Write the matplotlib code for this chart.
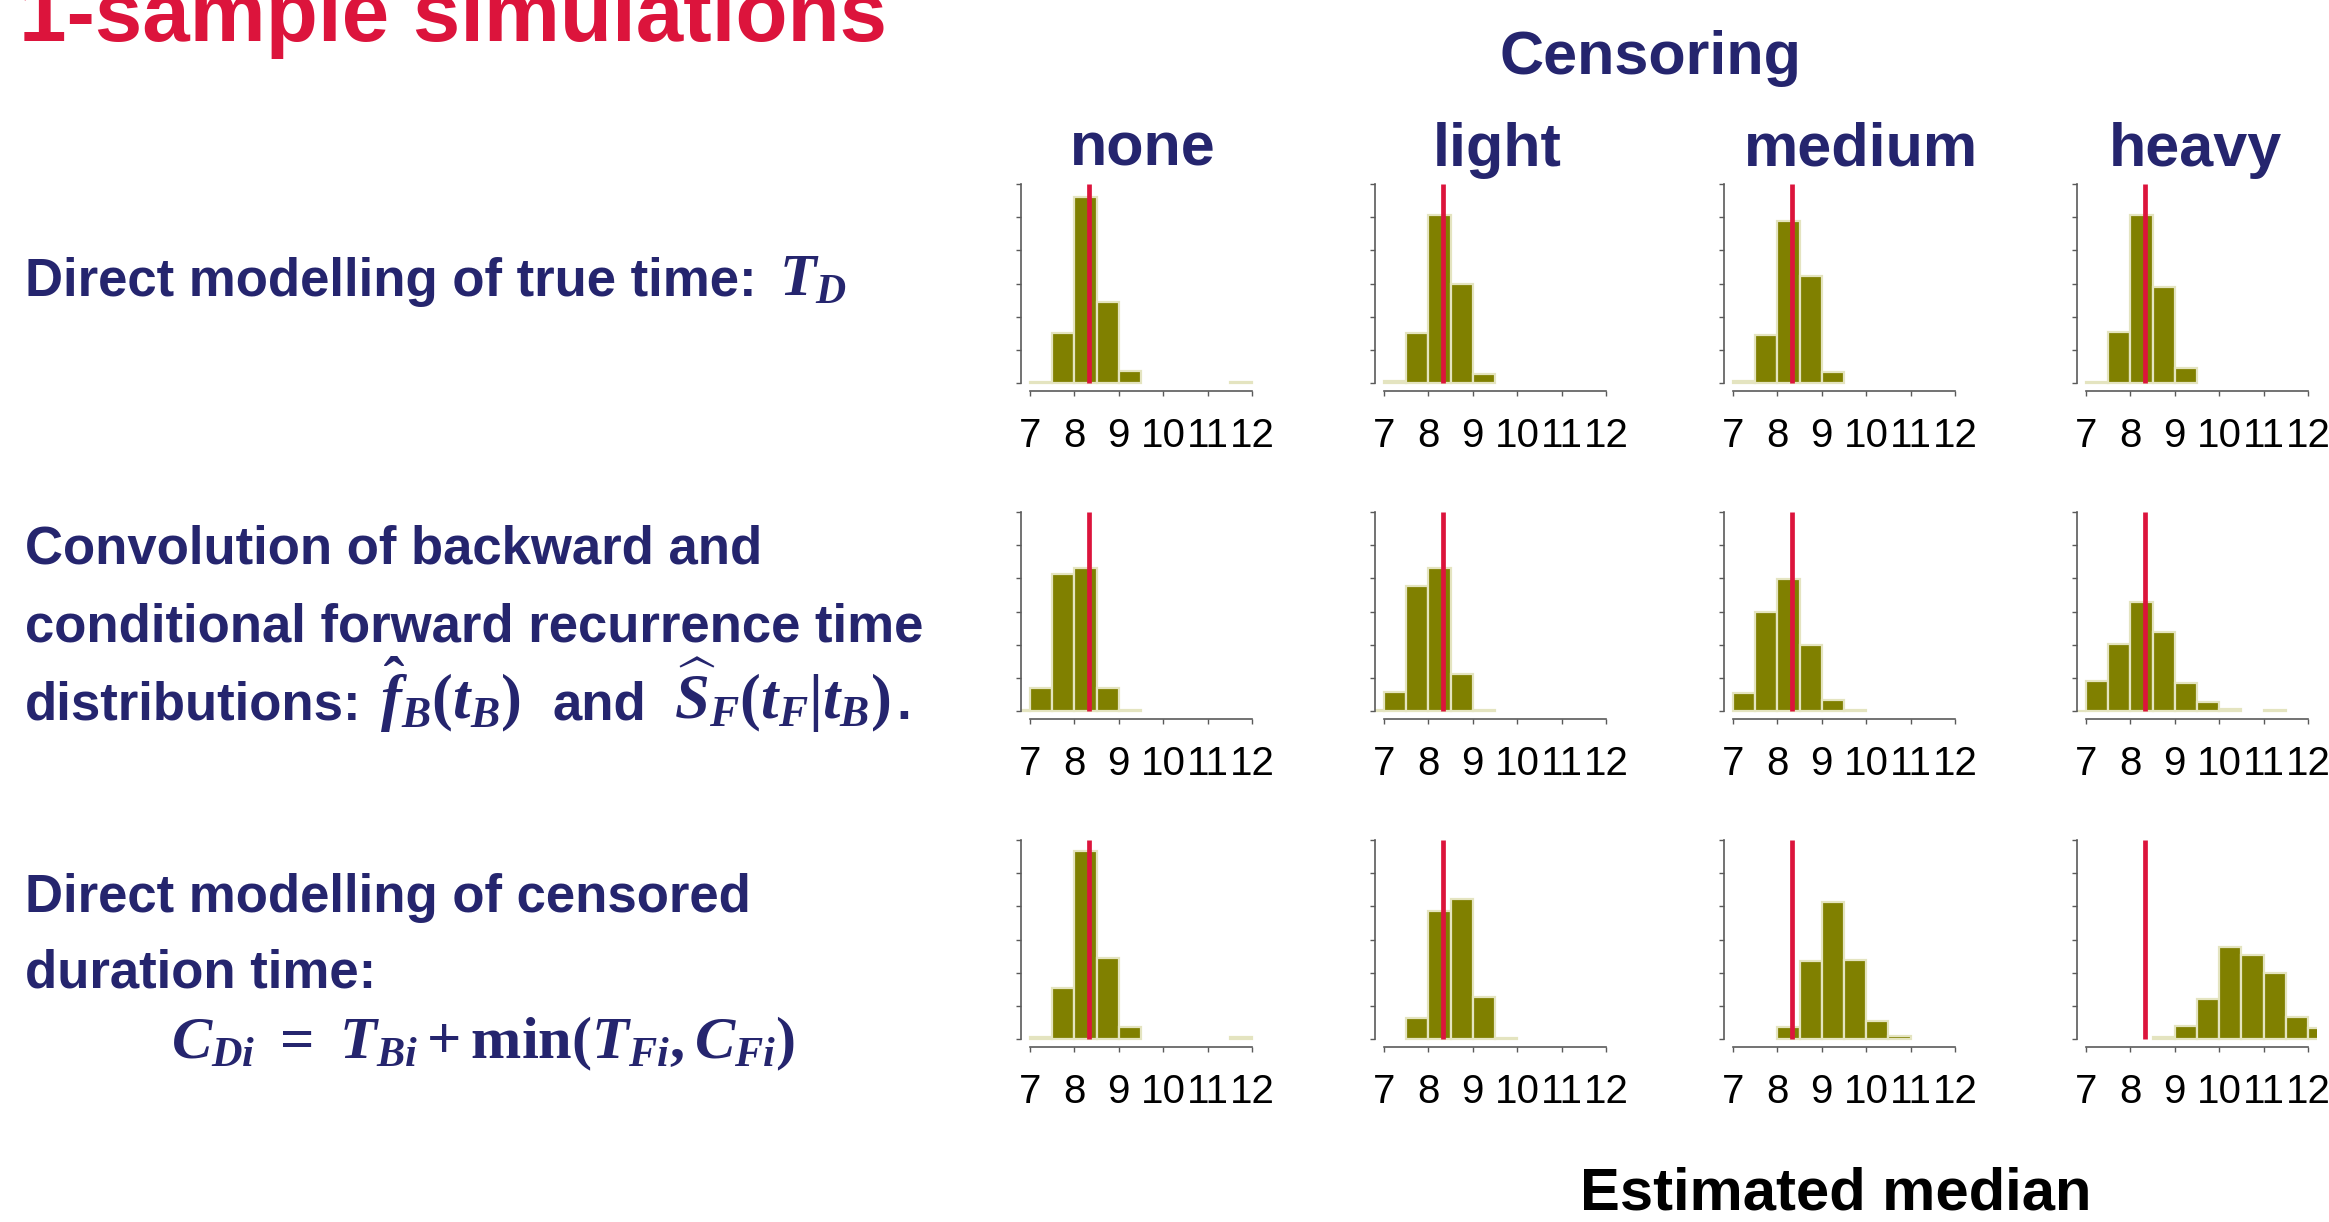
import numpy as np
import matplotlib
matplotlib.use("Agg")
from matplotlib import pyplot as plt

plt.rcParams['font.family'] = ['Liberation Sans', 'DejaVu Sans']
plt.rcParams['mathtext.fontset'] = 'custom'
plt.rcParams['mathtext.rm'] = 'Liberation Serif:bold'
plt.rcParams['mathtext.it'] = 'Liberation Serif:italic:bold'
plt.rcParams['mathtext.bf'] = 'Liberation Serif:bold'

W, H = 2329, 1222
NAVY = '#25256e'
RED = '#dc143c'

censoring = ['none', 'light', 'medium', 'heavy']
methods = ['direct', 'convolution', 'censored']

# histogram bins of the estimated median (width 0.5)
bin_edges = [6.5, 7.0, 7.5, 8.0, 8.5, 9.0, 9.5, 10.0, 10.5, 11.0, 11.5, 12.0, 12.5]
true_median = 8.34

# bar heights, one list per censoring level
direct_none   = [0, 0.02, 1.52, 5.62, 2.43, 0.35, 0, 0, 0, 0, 0.02, 0]
direct_light  = [0, 0.07, 1.52, 5.05, 2.98, 0.27, 0, 0, 0, 0, 0, 0]
direct_medium = [0, 0.05, 1.45, 4.87, 3.22, 0.32, 0, 0, 0, 0, 0, 0]
direct_heavy  = [0, 0.04, 1.53, 5.05, 2.89, 0.45, 0, 0, 0, 0, 0, 0]

conv_none   = [0.02, 0.69, 4.14, 4.31, 0.69, 0.02, 0, 0, 0, 0, 0, 0]
conv_light  = [0.02, 0.57, 3.78, 4.32, 1.12, 0.03, 0, 0, 0, 0, 0, 0]
conv_medium = [0, 0.53, 2.98, 3.98, 1.98, 0.33, 0.03, 0, 0, 0, 0, 0]
conv_heavy  = [0.01, 0.90, 2.03, 3.30, 2.37, 0.85, 0.28, 0.06, 0, 0.02, 0, 0]

cens_none   = [0, 0.05, 1.53, 5.67, 2.43, 0.36, 0, 0, 0, 0, 0.05, 0]
cens_light  = [0, 0, 0.63, 3.87, 4.23, 1.26, 0.03, 0, 0, 0, 0, 0]
cens_medium = [0, 0, 0, 0.36, 2.34, 4.14, 2.39, 0.54, 0.09, 0, 0, 0]
cens_heavy  = [0, 0, 0, 0, 0.05, 0.38, 1.20, 2.76, 2.52, 1.98, 0.66, 0.33]

heights = [
    [direct_none, direct_light, direct_medium, direct_heavy],
    [conv_none, conv_light, conv_medium, conv_heavy],
    [cens_none, cens_light, cens_medium, cens_heavy],
]

xticks = [7, 8, 9, 10, 11, 12]
yticks = [0, 1, 2, 3, 4, 5, 6]

fig = plt.figure(figsize=(W / 100, H / 100), dpi=100)

col_left = [1021, 1375, 1724, 2077]   # px
row_top = [176, 504, 832]             # px
ax_w, ax_h = 240, 215

for r in range(3):
    for c in range(4):
        ax = fig.add_axes([col_left[c] / W, 1 - (row_top[r] + ax_h) / H, ax_w / W, ax_h / H])
        h = np.array(heights[r][c])
        left = np.array(bin_edges[:-1])
        keep = h > 0
        ax.bar(left[keep], h[keep], width=0.5, align='edge', color='#808000',
               edgecolor='#e4e4c0', linewidth=1.6)
        ax.vlines(true_median, 0, 6, color=RED, lw=3.4, zorder=5)
        ax.set_xlim(6.8, 12.2)
        ax.set_ylim(-0.24, 6.24)
        for s in ['top', 'right']:
            ax.spines[s].set_visible(False)
        ax.spines['left'].set_bounds(0, 6)
        ax.spines['bottom'].set_bounds(7, 12)
        for s in ['left', 'bottom']:
            ax.spines[s].set_color('#5a5a5a')
            ax.spines[s].set_linewidth(1.2)
        ax.set_xticks(xticks)
        ax.set_xticklabels([str(t) for t in xticks])
        ax.set_yticks(yticks)
        ax.set_yticklabels([])
        ax.tick_params(axis='both', colors='#5a5a5a', length=3.6, width=1.0, labelcolor='black')
        ax.tick_params(axis='x', labelsize=29, pad=15)
        ax.patch.set_alpha(0)

# texts
fig.text(19 / W, 1 - 41 / H, '1-sample simulations', fontsize=61.5, weight='bold',
         color=RED, va='baseline')
fig.text(1650 / W, 1 - 74 / H, 'Censoring', fontsize=44, weight='bold', color=NAVY,
         ha='center', va='baseline')
head_x = [1143, 1497, 1861, 2195]
for c in range(4):
    fig.text(head_x[c] / W, 1 - 166 / H, censoring[c], fontsize=44, weight='bold',
             color=NAVY, ha='center', va='baseline')

fig.text(1836 / W, 1 - 1210 / H, 'Estimated median', fontsize=43, weight='bold',
         color='black', ha='center', va='baseline')

label_kw = dict(fontsize=38, weight='bold', color=NAVY, va='baseline')
math_kw = dict(fontsize=45, color=NAVY, va='baseline')
tx = 25 / W
fig.text(tx, 1 - 296 / H, 'Direct modelling of true time:', **label_kw)
fig.text(779 / W, 1 - 296 / H, '$T_D$', fontsize=43, color=NAVY, va='baseline')

fig.text(tx, 1 - 563 / H, 'Convolution of backward and', **label_kw)
fig.text(tx, 1 - 641 / H, 'conditional forward recurrence time', **label_kw)
fig.text(tx, 1 - 719 / H, 'distributions:', **label_kw)
fig.text(380 / W, 1 - 719 / H, r'$\hat{f}_B(t_B)$', **math_kw)
fig.text(553 / W, 1 - 719 / H, 'and', **label_kw)
fig.text(674 / W, 1 - 719 / H, r'$\widehat{S}_F(t_F|t_B)$', **math_kw)
fig.text(896 / W, 1 - 719 / H, '.', **label_kw)

fig.text(tx, 1 - 912 / H, 'Direct modelling of censored', **label_kw)
fig.text(tx, 1 - 988 / H, 'duration time:', **label_kw)
fig.text(171 / W, 1 - 1058 / H,
         r'$C_{Di}\ =\ T_{Bi} + \mathrm{min}(T_{Fi},C_{Fi})$', fontsize=43.5,
         color=NAVY, va='baseline')

fig.savefig('out.png', dpi=100)
